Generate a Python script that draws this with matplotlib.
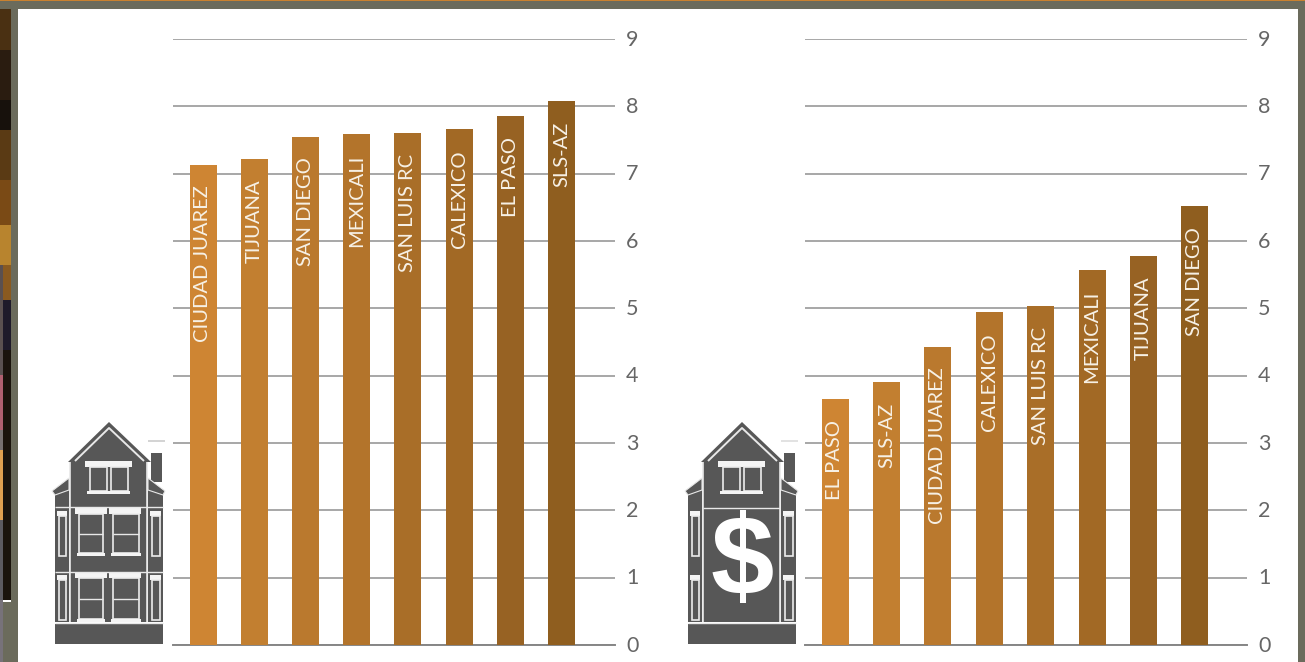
import matplotlib
matplotlib.use('Agg')
import matplotlib.pyplot as plt
from matplotlib.patches import Rectangle, Polygon
from matplotlib.transforms import ScaledTranslation

plt.rcParams['font.family'] = ['Lato', 'DejaVu Sans']

cidades_esq = ['CIUDAD JUAREZ', 'TIJUANA', 'SAN DIEGO', 'MEXICALI', 'SAN LUIS RC', 'CALEXICO', 'EL PASO', 'SLS-AZ']
valores_esq = [7.13, 7.22, 7.55, 7.59, 7.61, 7.66, 7.85, 8.08]

cidades_dir = ['EL PASO', 'SLS-AZ', 'CIUDAD JUAREZ', 'CALEXICO', 'SAN LUIS RC', 'MEXICALI', 'TIJUANA', 'SAN DIEGO']
valores_dir = [3.65, 3.91, 4.43, 4.94, 5.03, 5.57, 5.78, 6.52]

cores = ['#CE8533', '#C27F30', '#BA792E', '#B3742B', '#A96E28', '#A26925', '#976223', '#8F5E1F']
ticks = [0, 1, 2, 3, 4, 5, 6, 7, 8, 9]

W, H = 1305, 662
CINZA = '#575757'
BORDA = '#6b6b5c'

fig = plt.figure(figsize=(W / 100, H / 100), dpi=100, facecolor='white')

# fundo e icones em coordenadas de pixel
fundo = fig.add_axes([0, 0, 1, 1], zorder=0)
fundo.set_xlim(0, W)
fundo.set_ylim(H, 0)
fundo.axis('off')


def ret(x0, y0, x1, y1, cor):
    fundo.add_patch(Rectangle((x0, y0), x1 - x0, y1 - y0, facecolor=cor, edgecolor='none'))


def linha(xs, ys, lw=1.2, cor='#e8e8e8'):
    fundo.plot(xs, ys, color=cor, lw=lw, solid_capstyle='butt')


# foto cortada na borda esquerda
faixas = [(0, 50, '#4a3012'), (50, 100, '#2a1c10'), (100, 130, '#17110c'), (130, 180, '#5a3a14'),
          (180, 225, '#7a4a15'), (225, 265, '#b8842e'), (265, 300, '#8a5a20'), (300, 350, '#1e1a2a'),
          (350, 600, '#1a130c')]
for y0, y1, cor in faixas:
    ret(0, y0, 11, y1, cor)
lateral = [(265, 375, '#5a5050'), (375, 430, '#b06070'), (430, 450, '#777070'), (450, 520, '#e0a050'),
           (520, 600, '#5c5a60'), (600, 662, '#77727a')]
for y0, y1, cor in lateral:
    ret(0, y0, 3, y1, cor)
ret(3, 600, 11, H, BORDA)
ret(3, 600, 11, 602, '#ffffff')
ret(11, 0, 18, H, BORDA)
ret(1298, 0, W, H, BORDA)
ret(0, 0, W, 9, BORDA)
ret(0, 0, W, 1, '#C9812F')


def janela(x0, y0, x1, y1, barra=True):
    fundo.add_patch(Rectangle((x0, y0), x1 - x0, y1 - y0, facecolor=CINZA, edgecolor='#ececec', lw=1.2))
    if barra:
        linha([x0, x1], [(y0 + y1) / 2, (y0 + y1) / 2], lw=1.0)


def casa(dx, cifrao=False):
    # chamine, alas, corpo, telhado e base
    ret(151 + dx, 453, 162 + dx, 482, CINZA)
    ret(55 + dx, 490, 69 + dx, 622, CINZA)
    ret(148 + dx, 490, 163 + dx, 622, CINZA)
    fundo.add_patch(Polygon([(52 + dx, 491), (69 + dx, 478), (69 + dx, 490), (55 + dx, 495)], facecolor=CINZA, edgecolor='#e8e8e8', lw=0.8))
    fundo.add_patch(Polygon([(165 + dx, 491), (148 + dx, 478), (148 + dx, 490), (163 + dx, 495)], facecolor=CINZA, edgecolor='#e8e8e8', lw=0.8))
    ret(70 + dx, 462, 147 + dx, 622, CINZA)
    fundo.add_patch(Polygon([(109 + dx, 422), (68 + dx, 462), (151 + dx, 462)], facecolor=CINZA, edgecolor='none'))
    linha([75 + dx, 109 + dx, 144 + dx], [461, 428, 461], lw=1.4)
    linha([70 + dx, 70 + dx], [462, 622])
    linha([147 + dx, 147 + dx], [462, 622])
    ret(55 + dx, 624, 163 + dx, 644, CINZA)
    linha([55 + dx, 163 + dx], [623, 623], lw=1.0)
    # janela do sotao
    ret(85 + dx, 461, 132 + dx, 467, '#f4f4f4')
    janela(90 + dx, 467, 107 + dx, 491, barra=False)
    janela(111 + dx, 467, 128 + dx, 491, barra=False)
    ret(87 + dx, 491, 130 + dx, 494, '#f4f4f4')
    # janelas laterais
    for x0, x1 in [(59, 66), (152, 160)]:
        ret(x0 - 2 + dx, 511, x1 + 1 + dx, 516, '#f4f4f4')
        janela(x0 + dx, 516, x1 + dx, 556, barra=False)
        ret(x0 - 2 + dx, 575, x1 + 1 + dx, 580, '#f4f4f4')
        janela(x0 + dx, 580, x1 + dx, 620, barra=False)
    if cifrao:
        linha([70 + dx, 147 + dx], [508, 508], lw=1.0)
        fundo.text(109 + dx, 566, '$', color='white', fontsize=82, fontweight='bold',
                   ha='center', va='center', family=['Liberation Sans', 'DejaVu Sans'])
    else:
        linha([55 + dx, 163 + dx], [507, 507], lw=1.0)
        linha([55 + dx, 163 + dx], [572, 572], lw=1.0)
        for y0, y1 in [(514, 553), (578, 619)]:
            ret(75 + dx, y0 - 6, 107 + dx, y0, '#f4f4f4')
            ret(109 + dx, y0 - 6, 141 + dx, y0, '#f4f4f4')
            janela(79 + dx, y0, 103 + dx, y1)
            janela(113 + dx, y0, 139 + dx, y1)
            ret(77 + dx, y1, 105 + dx, y1 + 3, '#f4f4f4')
            ret(111 + dx, y1, 141 + dx, y1 + 3, '#f4f4f4')


casa(0)
casa(633, cifrao=True)
linha([148, 165], [441, 441], lw=1.2, cor='#cccccc')
linha([781, 798], [441, 441], lw=1.2, cor='#dddddd')


def grafico(x0, x1, cx0, passo, nomes, valores):
    ax = fig.add_axes([x0 / W, (H - 645) / H, (x1 - x0) / W, 606 / H], zorder=1)
    ax.patch.set_alpha(0)
    posicoes = list(range(len(valores)))
    ax.bar(posicoes, valores, width=27 / passo, color=cores, zorder=3)
    ax.set_xlim((x0 - cx0) / passo, (x1 - cx0) / passo)
    ax.set_ylim(0, 9)
    ax.set_yticks(ticks)
    ax.yaxis.tick_right()
    ax.tick_params(axis='y', length=0, pad=8, labelsize=15.5, labelcolor='#666666')
    ax.set_xticks([])
    ax.grid(axis='y', color='#a0a0a0', lw=1.3, zorder=0)
    for lado in ['top', 'left', 'right']:
        ax.spines[lado].set_visible(False)
    ax.spines['bottom'].set_color('#868686')
    ax.spines['bottom'].set_linewidth(1.4)
    ax.set_axisbelow(True)
    # os numeros ficam um pouco acima da linha
    sobe = ScaledTranslation(0, 1.5 / 100, fig.dpi_scale_trans)
    for rotulo in ax.get_yticklabels():
        rotulo.set_transform(rotulo.get_transform() + sobe)
    for p, v, nome in zip(posicoes, valores, nomes):
        ax.annotate(nome, (p, v), xytext=(0, -15), textcoords='offset points', rotation=90,
                    ha='center', va='top', color='#f7f1e6', fontsize=14.5, zorder=4)


grafico(173, 615, 203, 51.2, cidades_esq, valores_esq)
grafico(805, 1247, 835, 51.4, cidades_dir, valores_dir)

fig.savefig('out.png', dpi=100)
